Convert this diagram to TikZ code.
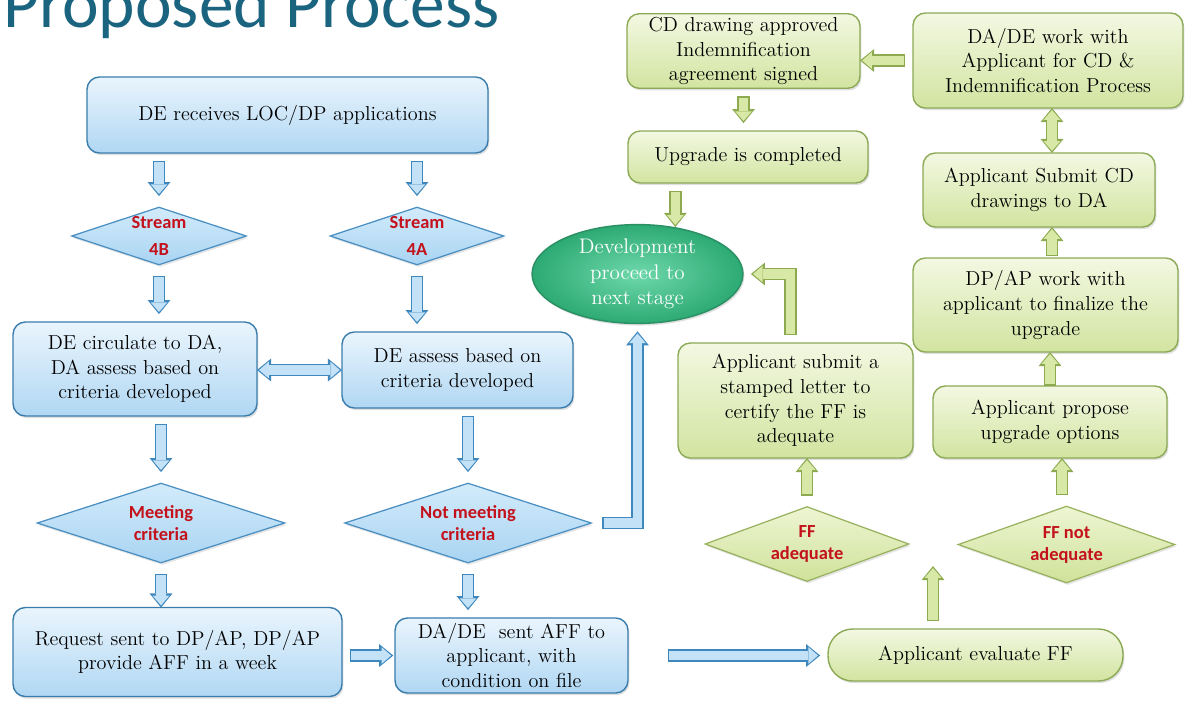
\documentclass[tikz,border=0pt]{standalone}
\usepackage{fontspec}
\newfontfamily\labelfont{Carlito}
\usepackage{xcolor}
\usepackage{tikz}
\usetikzlibrary{shapes.geometric, arrows.meta, shadows, calc}

\definecolor{bluedge}{HTML}{3A7DAD}
\definecolor{blutop}{HTML}{EAF5FD}
\definecolor{blubot}{HTML}{B0D7F3}
\definecolor{grnedge}{HTML}{8CA955}
\definecolor{grntop}{HTML}{F3F8E2}
\definecolor{grnbot}{HTML}{D2E4A0}
\definecolor{bludedge}{HTML}{4A8FC2}
\definecolor{bludtop}{HTML}{D2EBFB}
\definecolor{bludbot}{HTML}{A9D4F2}
\definecolor{grndedge}{HTML}{98B25E}
\definecolor{grndtop}{HTML}{EEF5D3}
\definecolor{grndbot}{HTML}{CFE29A}
\definecolor{bluAedge}{HTML}{3F88BE}
\definecolor{bluAfill}{HTML}{C4E2F7}
\definecolor{grnAedge}{HTML}{8DAA50}
\definecolor{grnAfill}{HTML}{D8E8A6}
\definecolor{devedge}{HTML}{2A8F63}
\definecolor{devin}{HTML}{6ED8AA}
\definecolor{devout}{HTML}{2DAA74}
\definecolor{labelred}{HTML}{C3121C}
\definecolor{titleteal}{HTML}{1A6480}

\tikzset{
  gapA/.store in=\gapA, gapA=0pt,
  gapB/.store in=\gapB, gapB=0pt,
  procbox/.style={draw=#1edge, line width=0.8pt, rounded corners=7pt,
    top color=#1top, bottom color=#1bot,
    drop shadow={opacity=0.25, shadow xshift=0.8pt, shadow yshift=-1.2pt},
    align=center, inner sep=2pt, outer sep=4.5pt,
    font=\fontsize{11.5}{14}\selectfont},
  decision/.style={diamond, aspect=2.8, inner sep=0pt, outer sep=4.5pt,
    draw=#1edge, line width=0.7pt, top color=#1top, bottom color=#1bot,
    drop shadow={opacity=0.2, shadow xshift=0.8pt, shadow yshift=-1.2pt},
    align=center, text=labelred,
    font=\labelfont\bfseries\fontsize{10.5}{12.5}\selectfont},
  blockflow/.style={line width=7pt, draw=#1Aedge, line join=miter,
    shorten <=\gapA, shorten >=\gapB,
    -{Triangle[length=8pt, width=13pt, line width=0pt]},
    postaction={draw=#1Afill, line width=5.2pt,
      shorten <=\gapA+0.9pt, shorten >=\gapB+1.2pt,
      -{Triangle[length=5.5pt, width=9.5pt, line width=0pt]}}},
  blockboth/.style={line width=7pt, draw=#1Aedge,
    shorten <=\gapA, shorten >=\gapB,
    {Triangle[length=8pt, width=13pt, line width=0pt]}-{Triangle[length=8pt, width=13pt, line width=0pt]},
    postaction={draw=#1Afill, line width=5.2pt,
      shorten <=\gapA+1.2pt, shorten >=\gapB+1.2pt,
      {Triangle[length=5.5pt, width=9.5pt, line width=0pt]}-{Triangle[length=5.5pt, width=9.5pt, line width=0pt]}}}
}

\begin{document}
\begin{tikzpicture}[x=0.02cm, y=-0.02cm]
  % Page
  \clip (0,0) rectangle (1185,703);
  \fill[white] (0,0) rectangle (1185,703);

  % Title
  \node[anchor=base west, inner sep=0pt, text=titleteal, font=\labelfont\fontsize{39.5}{44}\selectfont] (title) at (3,28) {Proposed Process};

  % Blue part
  \node[procbox=blu, minimum width=8.02cm, minimum height=1.52cm] (recv) at (287.5,115) {DE receives LOC/DP applications};
  \node[decision=blud, minimum width=3.62cm, minimum height=1.28cm, font=\labelfont\bfseries\fontsize{10.5}{15}\selectfont] (strm4b) at (159,236) {Stream\\4B};
  \node[decision=blud, minimum width=3.6cm, minimum height=1.28cm, font=\labelfont\bfseries\fontsize{10.5}{15}\selectfont] (strm4a) at (417,236) {Stream\\4A};
  \node[procbox=blu, minimum width=4.88cm, minimum height=1.88cm] (circ) at (135,369) {DE circulate to DA,\\DA assess based on\\criteria developed};
  \node[procbox=blu, minimum width=4.62cm, minimum height=1.52cm] (assess) at (457.5,370) {DE assess based on\\criteria developed};
  \node[decision=blud, minimum width=5.08cm, minimum height=1.72cm] (meet) at (161,523) {Meeting\\criteria};
  \node[decision=blud, minimum width=5.06cm, minimum height=1.72cm] (notmeet) at (468,523) {Not meeting\\criteria};
  \node[procbox=blu, minimum width=6.58cm, minimum height=1.78cm] (request) at (177.5,652) {Request sent to DP/AP, DP/AP\\provide AFF in a week};
  \node[procbox=blu, minimum width=4.66cm, minimum height=1.5cm] (sentaff) at (511.5,655.5) {DA/DE~ sent AFF to\\applicant, with\\condition on file};

  % Green part
  \node[procbox=grn, minimum width=4.66cm, minimum height=1.48cm] (cdok) at (743.5,51) {CD drawing approved\\Indemnification\\agreement signed};
  \node[procbox=grn, minimum width=4.8cm, minimum height=1.04cm] (upgdone) at (748,157) {Upgrade is completed};
  \node[ellipse, draw=devedge, line width=0.8pt, inner color=devin, outer color=devout, text=white, align=center, inner sep=0pt, outer sep=4.5pt,
    minimum width=4.22cm, minimum height=1.92cm, font=\fontsize{12}{14.5}\selectfont,
    drop shadow={opacity=0.25, shadow xshift=0.8pt, shadow yshift=-1.2pt}] (devnext) at (637.5,274) {Development\\proceed to\\next stage};
  \node[procbox=grn, minimum width=5.4cm, minimum height=1.9cm] (dawork) at (1048,60.5) {DA/DE work with\\Applicant for CD \&\\Indemnification Process};
  \node[procbox=grn, minimum width=4.64cm, minimum height=1.48cm] (submitcd) at (1039,190) {Applicant Submit CD\\drawings to DA};
  \node[procbox=grn, minimum width=5.3cm, minimum height=1.88cm] (dpwork) at (1045.5,305) {DP/AP work with\\applicant to finalize the\\upgrade};
  \node[procbox=grn, minimum width=4.7cm, minimum height=2.3cm] (letter) at (795.5,400.5) {Applicant submit a\\stamped letter to\\certify the FF is\\adequate};
  \node[procbox=grn, minimum width=4.68cm, minimum height=1.44cm] (propose) at (1050,422) {Applicant propose\\upgrade options};
  \node[decision=grnd, minimum width=4.2cm, minimum height=1.62cm] (ffok) at (807,544) {FF\\adequate};
  \node[decision=grnd, minimum width=4.46cm, minimum height=1.66cm] (ffnot) at (1066.5,544.5) {FF not\\adequate};
  \node[procbox=grn, rounded corners=14pt, minimum width=5.9cm, minimum height=1.04cm] (evalff) at (975.5,655) {Applicant evaluate FF};
  \coordinate (ffsplit) at (933,566);

  % Blue arrows
  \draw[blockflow=blu] (recv.south -| strm4b.north) -- (strm4b.north);
  \draw[blockflow=blu] (recv.south -| strm4a.north) -- (strm4a.north);
  \draw[blockflow=blu] (strm4b.south) -- (strm4b.south |- circ.north);
  \draw[blockflow=blu] (strm4a.south) -- (strm4a.south |- assess.north);
  \draw[gapA=-4.5pt, gapB=-4.5pt, blockboth=blu] (circ.east |- assess.west) -- (assess.west);
  \draw[blockflow=blu] (circ.south -| meet.north) -- (meet.north);
  \draw[blockflow=blu] (assess.south -| notmeet.north) -- (notmeet.north);
  \draw[gapB=-4.5pt, blockflow=blu] (meet.south) -- (meet.south |- request.north);
  \draw[blockflow=blu] (notmeet.south) -- (notmeet.south |- sentaff.north);
  \draw[gapB=-3.5pt, blockflow=blu] (sentaff.west -| request.east) -- (sentaff.west);
  \draw[blockflow=blu] (notmeet.east) -| (devnext.south);
  \draw[gapA=18pt, blockflow=blu] (sentaff.east) -- (sentaff.east -| evalff.west);

  % Green arrows
  \draw[gapB=-4.5pt, blockflow=grn] (dawork.west) -- (dawork.west -| cdok.east);
  \draw[blockflow=grn] (cdok.south) -- (cdok.south |- upgdone.north);
  \draw[gapB=-4pt, blockflow=grn] (upgdone.south -| devnext.55) -- (devnext.55);
  \draw[blockflow=grn] ([xshift=-0.1cm]letter.north) |- (devnext.east);
  \draw[gapA=-4.5pt, gapB=-4.5pt, blockboth=grn] ([xshift=0.08cm]dawork.south) -- ([xshift=0.08cm]dawork.south |- submitcd.north);
  \draw[gapA=-3.5pt, gapB=-4.5pt, blockflow=grn] ([xshift=0.13cm]dpwork.north) -- ([xshift=0.13cm]dpwork.north |- submitcd.south);
  \draw[gapA=-4.5pt, gapB=-4.5pt, blockflow=grn] (propose.north) -- (propose.north |- dpwork.south);
  \draw[gapB=-4.5pt, blockflow=grn] ([xshift=-0.09cm]ffnot.north) -- ([xshift=-0.09cm]ffnot.north |- propose.south);
  \draw[gapB=-4.5pt, blockflow=grn] (ffok.north) -- (ffok.north |- letter.south);
  \draw[blockflow=grn] (evalff.north -| ffsplit) -- (ffsplit);
\end{tikzpicture}
\end{document}
